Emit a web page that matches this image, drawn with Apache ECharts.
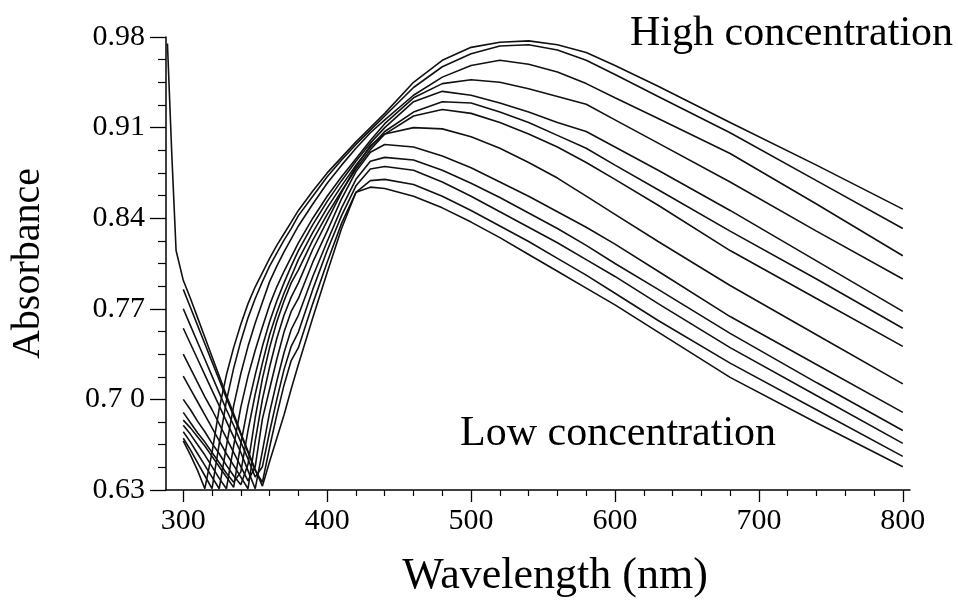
<!doctype html>
<html lang="en">
<head>
<meta charset="UTF-8">
<title>Absorbance spectra</title>
<script src="https://cdn.jsdelivr.net/npm/echarts@6/dist/echarts.min.js"></script>
<style>
  html, body { margin: 0; padding: 0; background: #fff; }
  #main { width: 958px; height: 601px; }
</style>
</head>
<body>
<div id="main"></div>
<script type="text/javascript">
// wavelength grid (nm), shared by all curves
var wavelength = [289, 292, 295, 300, 305, 310, 315, 320, 325, 330, 335, 340, 345, 350, 355, 360, 365, 370, 375, 380,
                  390, 400, 410, 420, 430, 440, 460, 480, 500, 520, 540, 560, 580, 600, 630, 680, 740, 800];

// absorbance, highest concentration first
var c0  = [null, null, null, .668, .657, .645, .631, .659, .693, .719, .740, .758, .774, .787, .798, .809, .819, .828, .837, .846,
           .861, .875, .887, .899, .910, .921, .945, .962, .972, .976, .977, .974, .968, .958, .942, .914, .881, .847];
var c1  = [null, null, null, .670, .661, .651, .641, .631, .666, .699, .724, .745, .763, .778, .791, .803, .813, .823, .832, .842,
           .857, .872, .885, .897, .908, .919, .941, .957, .967, .973, .974, .970, .962, .951, .934, .906, .869, .832];
var c2  = [null, null, null, .675, .667, .658, .649, .640, .631, .664, .695, .720, .741, .759, .775, .791, .803, .814, .824, .834,
           .851, .867, .881, .894, .906, .916, .935, .949, .958, .962, .959, .953, .944, .933, .917, .890, .851, .811];
var c3  = [null, null, null, .680, .673, .665, .657, .648, .639, .631, .664, .694, .718, .738, .756, .773, .787, .799, .810, .821,
           .840, .857, .872, .886, .900, .913, .933, .944, .947, .945, .940, .934, .928, .916, .898, .868, .830, .793];
var c4  = [null, null, null, .684, .678, .671, .664, .656, .648, .640, .632, .666, .695, .719, .741, .760, .776, .790, .803, .815,
           .835, .853, .869, .884, .898, .910, .930, .938, .935, .929, .922, .914, .907, .895, .877, .846, .807, .768];
var c5  = [null, null, null, .690, .682, .674, .667, .659, .651, .643, .636, .644, .676, .704, .728, .750, .767, .782, .795, .808,
           .829, .848, .865, .881, .895, .907, .922, .930, .929, .922, .914, .904, .894, .881, .862, .830, .793, .755];
var c6  = [null, null, null, .700, .692, .683, .675, .666, .658, .649, .641, .634, .650, .686, .716, .740, .760, .776, .790, .800,
           .823, .843, .861, .878, .893, .905, .919, .924, .921, .914, .905, .895, .883, .870, .850, .815, .778, .741];
var c7  = [null, null, null, .718, .708, .698, .688, .678, .668, .658, .649, .640, .631, .668, .700, .725, .747, .765, .779, .790,
           .816, .838, .860, .880, .896, .905, .910, .909, .903, .894, .883, .871, .857, .843, .822, .788, .750, .712];
var c8  = [null, null, null, .735, .724, .713, .702, .692, .681, .670, .659, .648, .637, .648, .685, .708, .731, .752, .768, .778,
           .806, .830, .855, .876, .891, .897, .895, .888, .879, .868, .857, .845, .833, .820, .799, .764, .727, .690];
var c9  = [null, null, null, .755, .743, .731, .719, .707, .695, .683, .671, .659, .645, .631, .660, .690, .714, .736, .754, .765,
           .795, .822, .848, .870, .884, .887, .885, .877, .867, .856, .844, .832, .819, .805, .785, .751, .713, .676];
var c10 = [null, null, null, .770, .757, .744, .731, .718, .705, .692, .680, .667, .654, .640, .648, .675, .700, .723, .741, .752,
           .785, .815, .842, .865, .878, .880, .877, .868, .857, .845, .833, .821, .808, .795, .774, .740, .703, .666];
var c11 = [null, null, null, .785, .771, .757, .743, .729, .715, .701, .687, .673, .659, .645, .636, .663, .688, .711, .730, .740,
           .774, .806, .836, .860, .869, .870, .866, .857, .846, .834, .822, .809, .796, .782, .761, .728, .692, .656];
var c12 = [.975, .890, .815, .792, .778, .763, .748, .733, .718, .703, .689, .674, .660, .646, .633, .652, .670, .688, .708, .727,
           .763, .798, .832, .860, .864, .863, .857, .848, .837, .825, .812, .799, .786, .773, .752, .717, .682, .648];

var curves = [c0, c1, c2, c3, c4, c5, c6, c7, c8, c9, c10, c11, c12];

// axis ticks
var xMajor = [300, 400, 500, 600, 700, 800];
var xMinor = [320, 340, 360, 380, 420, 440, 460, 480, 520, 540, 560, 580, 620, 640, 660, 680, 720, 740, 760, 780];
var yLabels = ['0.63', '0.7 0', '0.77', '0.84', '0.91', '0.98'];

var serif = 'Liberation Serif, Times New Roman, serif';

var myChart = echarts.init(document.getElementById('main'));

var option = {
    animation: false,
    backgroundColor: '#fff',
    grid: { left: 166, right: 48, top: 37, bottom: 111, containLabel: false, outerBoundsMode: 'none' },
    xAxis: [
        {
            type: 'value',
            min: 288,
            max: 805,
            name: 'Wavelength (nm)',
            nameLocation: 'middle',
            nameGap: 64,
            nameTextStyle: { fontFamily: serif, fontSize: 44, color: '#000', padding: [0, 0, 0, 34] },
            axisLine: { show: true, lineStyle: { color: '#000', width: 1.5 } },
            axisTick: { show: true, customValues: xMajor, length: 12, lineStyle: { color: '#000', width: 1.3 } },
            axisLabel: { customValues: xMajor, fontFamily: serif, fontSize: 30, color: '#000', margin: 16 },
            splitLine: { show: false }
        },
        {
            type: 'value',
            min: 288,
            max: 805,
            position: 'bottom',
            axisLine: { show: false },
            axisTick: { show: true, customValues: xMinor, length: 6, lineStyle: { color: '#000', width: 1.2 } },
            axisLabel: { show: false },
            splitLine: { show: false }
        }
    ],
    yAxis: {
        type: 'value',
        min: 0.63,
        max: 0.98,
        interval: 0.07,
        name: 'Absorbance',
        nameLocation: 'middle',
        nameGap: 118,
        nameRotate: 90,
        nameTextStyle: { fontFamily: serif, fontSize: 40, color: '#000' },
        axisLine: { show: true, lineStyle: { color: '#000', width: 1.5 } },
        axisTick: { show: true, length: 16, lineStyle: { color: '#000', width: 1.3 } },
        minorTick: { show: true, splitNumber: 4, length: 8, lineStyle: { color: '#000', width: 1.2 } },
        axisLabel: {
            fontFamily: serif, fontSize: 30, color: '#000', margin: 21,
            formatter: function (v) {
                var i = Math.round((v - 0.63) / 0.07);
                return yLabels[i] !== undefined ? yLabels[i] : '';
            }
        },
        splitLine: { show: false }
    },
    graphic: [
        { type: 'text', left: 630, top: 13, style: { text: 'High concentration', font: '42px ' + serif, fill: '#000' } },
        { type: 'text', left: 460, top: 413, style: { text: 'Low concentration', font: '42px ' + serif, fill: '#000' } }
    ],
    series: curves.map(function (vals) {
        return {
            type: 'line',
            xAxisIndex: 0,
            symbol: 'none',
            silent: true,
            connectNulls: false,
            lineStyle: { color: '#111', width: 1.6 },
            data: wavelength.map(function (w, i) { return [w, vals[i]]; })
        };
    })
};

myChart.setOption(option);
</script>
</body>
</html>
